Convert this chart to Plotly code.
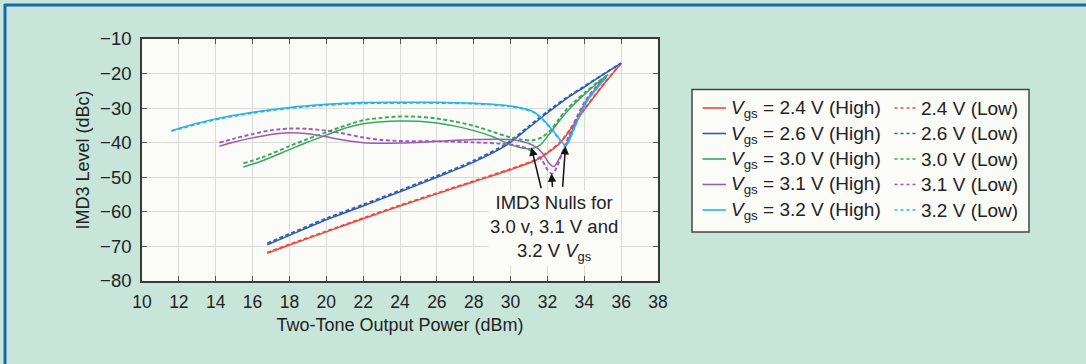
import plotly.graph_objects as go

# ---------------- data ----------------
red_hi_x = [16.8, 18, 20, 22, 24, 26, 28, 30, 31.4, 32, 32.7, 33.4, 34, 35, 36]
red_hi_y = [-72, -69.6, -65.8, -62, -58.3, -54.8, -51.3, -47.8, -45, -43, -40, -35, -30.5, -23.5, -17]
red_lo_x = [16.8, 18, 20, 22, 24, 26, 28, 30, 31.4, 32, 32.7, 33.4, 34, 35, 36]
red_lo_y = [-71.8, -69.4, -65.6, -61.8, -58.1, -54.6, -51.1, -47.6, -44.8, -42.8, -39.8, -34.8, -30.3, -23.4, -17]

blue_hi_x = [16.8, 18, 20, 22, 24, 26, 28, 29.8, 31, 32, 33, 34, 35, 36]
blue_hi_y = [-69.5, -66.8, -62.3, -58.3, -54.2, -50, -45.6, -40.6, -35.6, -31.4, -27.4, -23.9, -20.4, -17]
blue_lo_x = [16.8, 18, 20, 22, 24, 26, 28, 29.8, 31, 32, 33, 34, 35, 36]
blue_lo_y = [-69.1, -66.4, -61.9, -57.9, -53.8, -49.6, -45.2, -40.2, -35.2, -31.0, -27.1, -23.7, -20.3, -17]

green_hi_x = [15.5, 16.5, 18, 19, 20, 21, 22, 23, 24, 25, 26, 27, 28, 29, 29.8, 30.5, 31.1, 31.6, 32.1, 32.6, 33.0, 33.5, 34.1, 34.7, 35.3]
green_hi_y = [-47, -45.3, -42, -39.8, -37.8, -35.8, -34.5, -33.9, -33.7, -33.8, -34.3, -35.2, -36.5, -38.2, -40.1, -41.4, -41.8, -40.7, -37.5, -34, -31.4, -28.6, -25.6, -22.8, -20.3]
green_lo_x = [15.5, 16.5, 18, 19, 20, 21, 22, 23, 24, 25, 26, 27, 28, 29, 30, 30.6, 31.2, 31.7, 32.2, 32.6, 33.0, 33.5, 34.1, 34.7, 35.3]
green_lo_y = [-46, -44.3, -41, -38.9, -37, -35.1, -33.5, -32.8, -32.4, -32.5, -33, -33.9, -35.1, -36.8, -38.5, -39.1, -39.3, -38.4, -36.2, -33.3, -30.6, -28, -25.2, -22.6, -20.3]

purple_hi_x = [14.2, 15, 16, 17, 18, 19, 20, 21, 22, 24, 26, 28, 29.5, 30.5, 31.2, 31.7, 32.1, 32.35, 32.7, 33.1, 33.5, 34.1, 34.7, 35.2]
purple_hi_y = [-41, -39.8, -38.6, -37.6, -37.1, -37.4, -38.3, -39.3, -40, -40.1, -39.6, -39.1, -39, -39.5, -40.7, -42.8, -46, -46.9, -44, -39.5, -34.5, -28, -23.8, -20.8]
purple_lo_x = [14.2, 15, 16, 17, 18, 19, 20, 21, 22, 23, 24, 26, 28, 29.5, 30.5, 31.2, 31.7, 32.0, 32.25, 32.5, 32.8, 33.2, 33.6, 34.1, 34.7, 35.2]
purple_lo_y = [-40, -38.8, -37.5, -36.4, -35.9, -36, -36.5, -37.4, -38.5, -39.2, -39.5, -39.6, -39.9, -40.3, -41, -42.5, -45, -47.8, -49, -47.2, -43, -37.5, -32.5, -27.5, -23.5, -20.8]

cyan_hi_x = [11.6, 13, 14, 16, 18, 20, 22, 24, 26, 28, 29, 30, 30.7, 31.3, 31.8, 32.3, 32.7, 33.0, 33.4, 33.8, 34.2, 34.8, 35.2]
cyan_hi_y = [-36.5, -34.4, -33.1, -31.2, -29.8, -28.9, -28.4, -28.3, -28.3, -28.6, -28.9, -29.4, -30.1, -31.2, -33.5, -36.5, -39.2, -40.9, -36.5, -31.5, -27.5, -23.5, -21]
cyan_lo_x = [11.6, 13, 14, 16, 18, 20, 22, 24, 26, 28, 29, 30, 30.7, 31.3, 31.8, 32.3, 32.7, 33.0, 33.4, 33.8, 34.2, 34.8, 35.2]
cyan_lo_y = [-36.6, -34.6, -33.3, -31.4, -30.0, -29.1, -28.6, -28.5, -28.5, -28.7, -29.0, -29.5, -30.2, -31.3, -33.6, -36.6, -39.3, -40.9, -36.5, -31.5, -27.5, -23.5, -21]

series_names = ["2.4", "2.6", "3.0", "3.1", "3.2"]
series_colors = ["#ec4a3f", "#2f5db3", "#38a85c", "#9a5bb4", "#27b4e6"]
hi_x = [red_hi_x, blue_hi_x, green_hi_x, purple_hi_x, cyan_hi_x]
hi_y = [red_hi_y, blue_hi_y, green_hi_y, purple_hi_y, cyan_hi_y]
lo_x = [red_lo_x, blue_lo_x, green_lo_x, purple_lo_x, cyan_lo_x]
lo_y = [red_lo_y, blue_lo_y, green_lo_y, purple_lo_y, cyan_lo_y]

# null arrows: head (x, y) and tail (x, y)
null_head_x = [31.13, 32.22, 32.98]
null_head_y = [-41.4, -48.9, -41.0]
null_tail_x = [31.68, 32.28, 32.82]
null_tail_y = [-53.6, -53.2, -53.2]

x_ticks = list(range(10, 39, 2))
y_ticks = list(range(-80, -9, 10))

# ---------------- figure ----------------
W, H = 1086, 364
ML, MR, MT, MB = 142, W - 658, 39, H - 281
PW, PH = W - ML - MR, H - MT - MB
FONT = "Liberation Sans, Arial, Helvetica, sans-serif"
TXT = "#222222"
PLOT_BG = "#fbfbf8"


def px2x(px):
    return (px - ML) / PW


def py2y(py):
    return (H - MB - py) / PH


fig = go.Figure()
for i in range(5):
    fig.add_trace(go.Scatter(x=hi_x[i], y=hi_y[i], mode="lines",
                             line=dict(color=series_colors[i], width=1.5, shape="spline", smoothing=0.8),
                             showlegend=False, hoverinfo="skip"))
for i in range(5):
    fig.add_trace(go.Scatter(x=lo_x[i], y=lo_y[i], mode="lines",
                             line=dict(color=series_colors[i], width=1.9, dash="4px,2.5px", shape="spline", smoothing=0.8),
                             showlegend=False, hoverinfo="skip"))

axis_common = dict(
    showgrid=True, gridcolor="#dadada", gridwidth=1,
    showline=True, linecolor="#3a3a3a", linewidth=1.6, mirror="ticks",
    ticks="inside", ticklen=5, tickcolor="#555555", tickwidth=1,
    zeroline=False,
)

fig.update_xaxes(range=[10, 38], tickvals=x_ticks, ticktext=[str(v) for v in x_ticks],
                 tickfont=dict(family=FONT, size=17.5, color=TXT),
                 title=dict(text="Two-Tone Output Power (dBm)", font=dict(family=FONT, size=18, color=TXT), standoff=8),
                 ticklabelstandoff=4, **axis_common)
fig.update_yaxes(range=[-80, -10], tickvals=y_ticks, ticktext=["\u2212" + str(-v) for v in y_ticks],
                 tickfont=dict(family=FONT, size=18.5, color=TXT),
                 title=dict(text="IMD3 Level (dBc)", font=dict(family=FONT, size=18, color=TXT), standoff=6),
                 ticklabelstandoff=5, **axis_common)

annotations = []
# arrows
for hx, hy, tx, ty in zip(null_head_x, null_head_y, null_tail_x, null_tail_y):
    annotations.append(dict(x=hx, y=hy, ax=tx, ay=ty, xref="x", yref="y", axref="x", ayref="y",
                            text="", showarrow=True, arrowhead=2, arrowsize=1.1, arrowwidth=1.5,
                            arrowcolor="#111111", standoff=0))
# null label
annotations.append(dict(x=32.35, y=-64.6, xref="x", yref="y", showarrow=False,
                        text="IMD3 Nulls for<br>3.0 v, 3.1 V and<br>3.2 V <i>V</i><sub>gs</sub>",
                        font=dict(family=FONT, size=18.5, color=TXT), align="center",
                        bgcolor=PLOT_BG, borderpad=1))

shapes = []
# outer frame (top and left edges)
shapes.append(dict(type="line", xref="paper", yref="paper", x0=px2x(4.5), x1=px2x(W + 5), y0=py2y(5), y1=py2y(5),
                   line=dict(color="#1767b1", width=3)))
shapes.append(dict(type="line", xref="paper", yref="paper", x0=px2x(5), x1=px2x(5), y0=py2y(4), y1=py2y(H + 5),
                   line=dict(color="#1767b1", width=3)))

# legend box
shapes.append(dict(type="rect", xref="paper", yref="paper", x0=px2x(692), x1=px2x(1029), y0=py2y(89.5), y1=py2y(232),
                   fillcolor=PLOT_BG, line=dict(color="#444444", width=1.5), layer="below"))
row_y = [108, 133.5, 159, 184.5, 210]
for i in range(5):
    ry = row_y[i]
    shapes.append(dict(type="line", xref="paper", yref="paper", x0=px2x(702.5), x1=px2x(726), y0=py2y(ry), y1=py2y(ry),
                       line=dict(color=series_colors[i], width=1.6)))
    shapes.append(dict(type="line", xref="paper", yref="paper", x0=px2x(894.5), x1=px2x(917.5), y0=py2y(ry), y1=py2y(ry),
                       line=dict(color=series_colors[i], width=1.4, dash="3px,3px")))
    annotations.append(dict(x=px2x(729), y=py2y(ry + 1), xref="paper", yref="paper", xanchor="left", yanchor="middle",
                            showarrow=False, text="<i>V</i><sub>gs</sub> = " + series_names[i] + " V (High)",
                            font=dict(family=FONT, size=19, color=TXT)))
    annotations.append(dict(x=px2x(918.5), y=py2y(ry), xref="paper", yref="paper", xanchor="left", yanchor="middle",
                            showarrow=False, text=series_names[i] + " V (Low)",
                            font=dict(family=FONT, size=19, color=TXT)))

fig.update_layout(
    width=W, height=H,
    margin=dict(l=ML, r=MR, t=MT, b=MB, pad=0),
    paper_bgcolor="#c8e5d9",
    plot_bgcolor=PLOT_BG,
    showlegend=False,
    annotations=annotations,
    shapes=shapes,
    font=dict(family=FONT, color=TXT),
)

fig.write_html("out.html")
